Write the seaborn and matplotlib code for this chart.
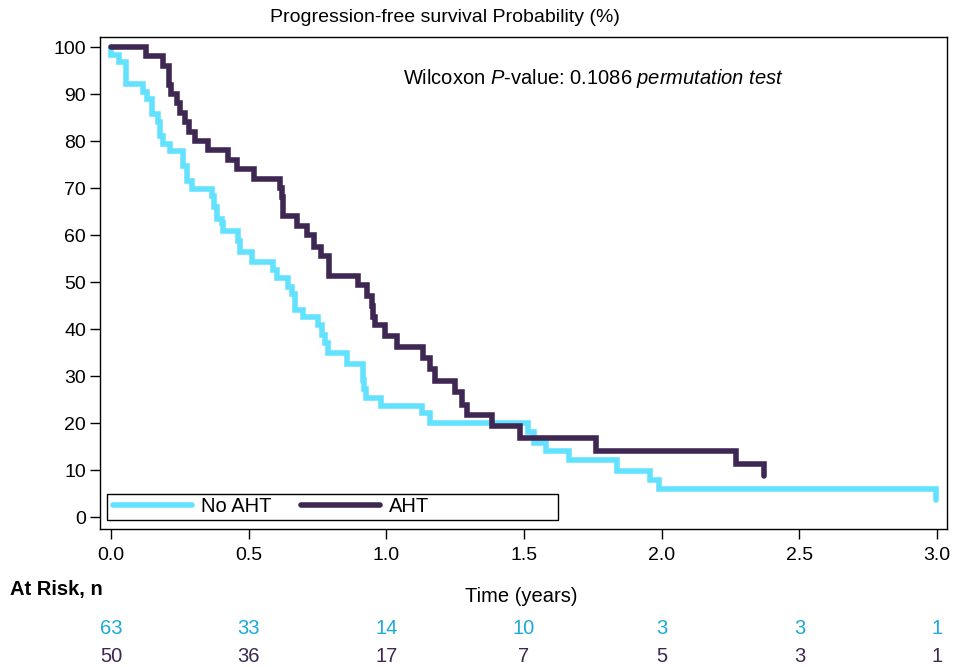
import numpy as np
import pandas as pd
import matplotlib
matplotlib.use("Agg")
import matplotlib.pyplot as plt
import seaborn as sns
from matplotlib.patches import Rectangle
import matplotlib.transforms as mtransforms

# ---------------- data ----------------
groups = ["No AHT", "AHT"]

t_no = [0.0, 0.0, 0.03, 0.054, 0.117, 0.129, 0.148, 0.172, 0.178, 0.19, 0.214,
        0.263, 0.275, 0.293, 0.366, 0.374, 0.384, 0.402, 0.408, 0.462, 0.469,
        0.511, 0.59, 0.602, 0.644, 0.656, 0.668, 0.698, 0.753, 0.765, 0.777,
        0.789, 0.856, 0.915, 0.92, 0.927, 0.98, 1.128, 1.159, 1.515, 1.537,
        1.58, 1.664, 1.838, 1.958, 1.99, 2.997]
s_no = [100.0, 98.4, 96.8, 92.1, 90.5, 88.9, 85.7, 84.1, 81.0, 79.4, 77.8,
        74.6, 71.4, 69.8, 68.2, 65.9, 63.5, 62.5, 60.8, 58.7, 56.4,
        54.3, 52.6, 50.9, 49.0, 47.4, 44.0, 42.6, 40.9, 38.7, 37.0,
        34.8, 32.5, 29.1, 27.2, 25.4, 23.6, 22.1, 20.1, 18.1, 15.8,
        14.0, 12.1, 9.8, 7.9, 6.0, 3.6]

t_aht = [0.0, 0.127, 0.19, 0.212, 0.217, 0.24, 0.251, 0.269, 0.284, 0.305,
         0.353, 0.426, 0.459, 0.519, 0.614, 0.62, 0.626, 0.674, 0.711, 0.736,
         0.762, 0.791, 0.897, 0.928, 0.946, 0.952, 0.959, 0.995, 1.038, 1.134,
         1.159, 1.177, 1.25, 1.274, 1.292, 1.384, 1.486, 1.762, 2.27, 2.37]
s_aht = [100.0, 98.0, 96.0, 92.0, 90.0, 88.0, 86.0, 84.0, 82.0, 80.0,
         78.0, 76.0, 74.0, 72.0, 70.0, 68.0, 64.0, 62.0, 60.0, 57.5,
         55.5, 51.3, 49.3, 47.0, 45.0, 42.6, 40.9, 38.5, 36.2, 33.8,
         31.4, 28.9, 26.5, 23.8, 21.6, 19.4, 16.8, 14.0, 11.3, 8.7]

x_ticks = [0.0, 0.5, 1.0, 1.5, 2.0, 2.5, 3.0]
x_tick_labels = ["0.0", "0.5", "1.0", "1.5", "2.0", "2.5", "3.0"]
y_ticks = [0, 10, 20, 30, 40, 50, 60, 70, 80, 90, 100]
risk_no = [63, 33, 14, 10, 3, 3, 1]
risk_aht = [50, 36, 17, 7, 5, 3, 1]

# ---------------- style ----------------
sns.set_theme(style="white")
plt.rcParams["font.family"] = ["Liberation Sans", "DejaVu Sans"]
plt.rcParams["mathtext.fontset"] = "custom"
plt.rcParams["mathtext.rm"] = "Liberation Sans"
plt.rcParams["mathtext.it"] = "Liberation Sans:italic"
plt.rcParams["text.color"] = "black"

c_no = "#62e2ff"
c_aht = "#3e2753"
c_no_txt = "#1aa9d9"
c_aht_txt = "#3e2753"
FS = 14.5

df = pd.concat([
    pd.DataFrame({"time": t_no, "surv": s_no, "group": groups[0]}),
    pd.DataFrame({"time": t_aht, "surv": s_aht, "group": groups[1]}),
], ignore_index=True)

fig = plt.figure(figsize=(9.67, 6.67), dpi=100)
ax = fig.add_axes([100 / 967, 1 - 529 / 667, 847 / 967, 492 / 667])

sns.lineplot(data=df, x="time", y="surv", hue="group", hue_order=groups,
             palette=[c_no, c_aht], estimator=None, sort=False,
             drawstyle="steps-post", linewidth=4.0, ax=ax,
             solid_joinstyle="miter", legend=True)

ax.set_xlim(-0.04, 3.036)
ax.set_ylim(-2.55, 102.13)
ax.set_xticks(x_ticks)
ax.set_xticklabels(x_tick_labels)
ax.set_yticks(y_ticks)
ax.set_xlabel("")
ax.set_ylabel("")
for sp in ax.spines.values():
    sp.set_visible(True)
    sp.set_color("black")
    sp.set_linewidth(1.0)
ax.tick_params(axis="both", which="both", direction="out", length=7, width=1,
               color="black", labelsize=14, labelcolor="black")
ax.tick_params(axis="x", pad=6.0, bottom=True)
ax.tick_params(axis="y", pad=3.0, left=True)

# legend
handles, labels = ax.get_legend_handles_labels()
leg = ax.legend(handles, labels, ncol=2, loc="center left",
                bbox_to_anchor=(13 / 847, 22 / 492), frameon=False,
                fontsize=FS, borderpad=0, borderaxespad=0,
                handlelength=3.9, handletextpad=0.45, columnspacing=1.5)
for h in leg.get_lines():
    h.set_linewidth(4.0)
ax.add_patch(Rectangle((7 / 847, 9 / 492), 451 / 847, 26 / 492,
                       transform=ax.transAxes, fill=False,
                       edgecolor="black", linewidth=1.0, zorder=5))

# texts
fig.text(445 / 967, 1 - 17 / 667, "Progression-free survival Probability (%)",
         ha="center", va="center", fontsize=14)
ax.text(1.06, 93.4, r"Wilcoxon $\it{P}$-value: 0.1086 $\it{permutation\ test}$",
        ha="left", va="center", fontsize=FS)
fig.text(10 / 967, 1 - 590 / 667, "At Risk, n", ha="left", va="center",
         fontsize=FS, fontweight="bold")
fig.text(521 / 967, 1 - 597 / 667, "Time (years)", ha="center", va="center",
         fontsize=FS)

trans = mtransforms.blended_transform_factory(ax.transData, fig.transFigure)
for xv, a, b in zip(x_ticks, risk_no, risk_aht):
    ax.text(xv, 1 - 628 / 667, str(a), transform=trans, ha="center",
            va="center", fontsize=FS, color=c_no_txt, clip_on=False)
    ax.text(xv, 1 - 657 / 667, str(b), transform=trans, ha="center",
            va="center", fontsize=FS, color=c_aht_txt, clip_on=False)

fig.savefig("out.png", dpi=100)
